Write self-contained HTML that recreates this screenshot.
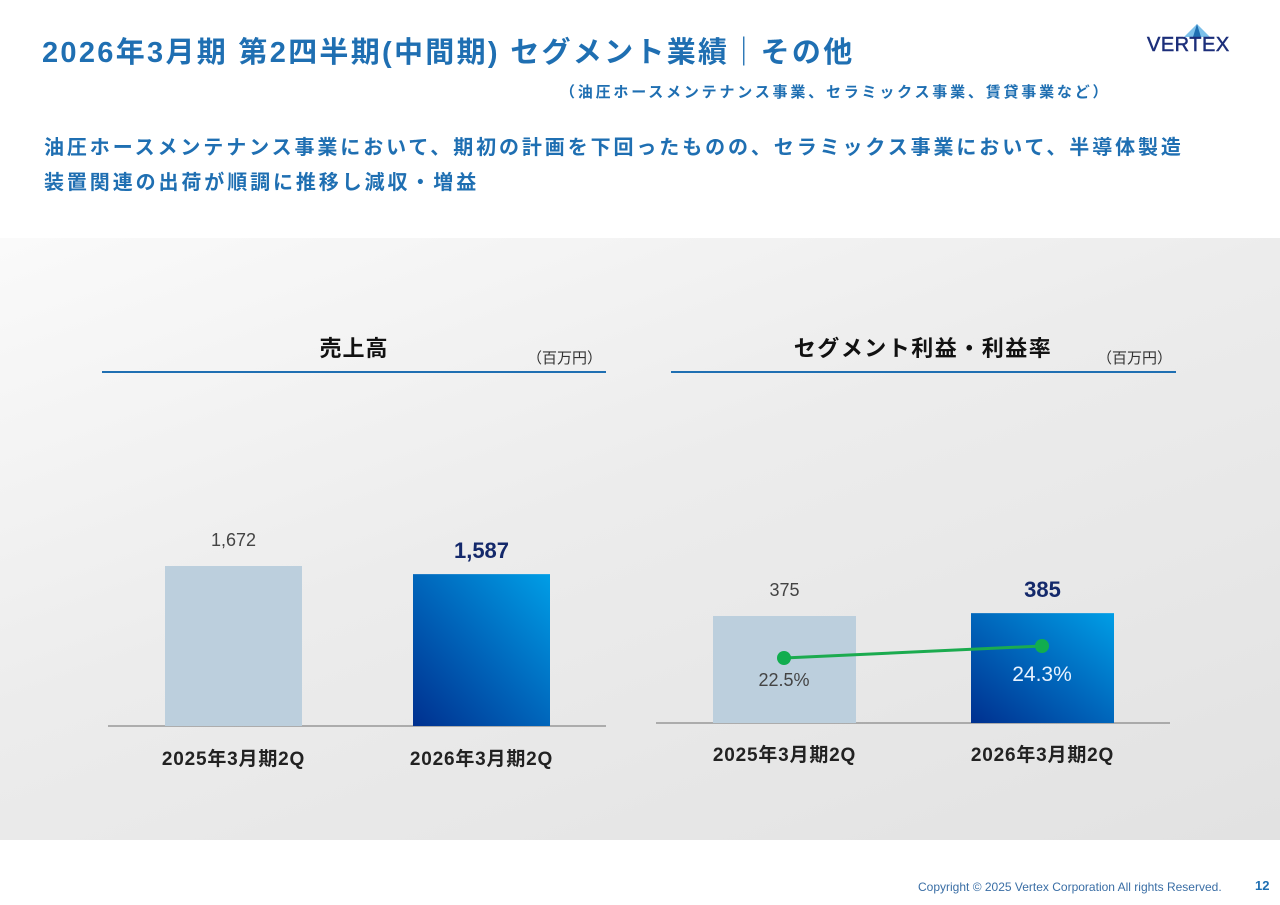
<!DOCTYPE html>
<html><head><meta charset="utf-8"><style>
body{margin:0;width:1280px;height:905px;position:relative;overflow:hidden;background:#fff;font-family:"Liberation Sans","Noto Sans CJK JP",sans-serif}
.abs{position:absolute;white-space:nowrap}
#panel{position:absolute;left:0;top:238px;width:1280px;height:602px;background:linear-gradient(160deg,#fafafa 0%,#ececec 45%,#e2e2e2 100%)}
</style></head><body>
<div class="abs" style="left:42px;top:29px;font-size:29px;font-weight:bold;color:#1f6fb2;letter-spacing:2.3px">2026年3月期 第2四半期(中間期) セグメント業績｜その他</div>
<div class="abs" style="left:1146px;top:24px;width:104px;height:32px">
<svg width="104" height="32"><polygon points="51,0 38,13 64,13" fill="#7cc0ea"/><polygon points="51,0 47,13 55,13" fill="#1f6fb2"/></svg>
<div class="abs" style="left:1px;top:10px;font-size:20px;color:#1c2f7a;letter-spacing:0.5px;-webkit-text-stroke:0.5px #1c2f7a">VERTEX</div></div>
<div class="abs" style="left:560px;top:81px;font-size:15px;font-weight:bold;color:#1f6fb2;letter-spacing:2.8px">（油圧ホースメンテナンス事業、セラミックス事業、賃貸事業など）</div>
<div class="abs" style="left:44px;top:131px;font-size:20px;font-weight:bold;color:#1f6fb2;line-height:35px;letter-spacing:2.9px">油圧ホースメンテナンス事業において、期初の計画を下回ったものの、セラミックス事業において、半導体製造<br>装置関連の出荷が順調に推移し減収・増益</div>
<div id="panel"></div>
<svg id="chart" width="1280" height="905" style="position:absolute;left:0;top:0">
<defs><linearGradient id="blue" x1="0" y1="1" x2="1" y2="0"><stop offset="0" stop-color="#00308f"/><stop offset="0.5" stop-color="#0066bb"/><stop offset="1" stop-color="#009ee6"/></linearGradient></defs>
</svg>
<div class="abs" style="left:918px;top:880px;font-size:12px;color:#3a6ea5">Copyright © 2025 Vertex Corporation All rights Reserved.</div>
<div class="abs" style="left:1255px;top:878px;font-size:13px;font-weight:bold;color:#1f6fb2">12</div>
<script>
const categories=["2025年3月期2Q","2026年3月期2Q"];
const sales=[1672,1587];
const salesLabels=["1,672","1,587"];
const profit=[375,385];
const profitLabels=["375","385"];
const margin=[22.5,24.3];
const marginLabels=["22.5%","24.3%"];
const svg=document.getElementById('chart');const NS='http://www.w3.org/2000/svg';
function mk(t,a,txt){const e=document.createElementNS(NS,t);for(const k in a)e.setAttribute(k,a[k]);if(txt!=null)e.textContent=txt;svg.appendChild(e);return e;}
const F='"Liberation Sans","Noto Sans CJK JP",sans-serif';
function panel(cfg){
 let e;
 e=mk('text',{x:cfg.tx,y:356,'text-anchor':'middle','font-size':22,'font-weight':'bold',fill:'#111','font-family':F,'letter-spacing':cfg.ls},cfg.title);
 
 e=mk('text',{x:cfg.ux2-4,y:363,'text-anchor':'end','font-size':15,fill:'#333','font-family':F},'（百万円）');
 
 e=mk('line',{x1:cfg.ux1,x2:cfg.ux2,y1:372,y2:372,stroke:'#1f6fb2','stroke-width':2});
 
 e=mk('line',{x1:cfg.ax1,x2:cfg.ax2,y1:cfg.base,y2:cfg.base,stroke:'#888','stroke-width':1.2});
 
 const y=v=>cfg.base-v*cfg.scale;
 cfg.vals.forEach((v,i)=>{
  const x=cfg.bx[i];
  e=mk('rect',{x:x,y:y(v),width:cfg.bw,height:cfg.base-y(v),fill:i?'url(#blue)':'#bccfdd'});
  
  e=mk('text',{x:x+cfg.bw/2,y:y(v)-(i?16:20),'text-anchor':'middle','font-size':i?22:18,'font-weight':i?'bold':'normal',fill:i?'#14296b':'#444','font-family':F},cfg.labels[i]);
  
  e=mk('text',{x:x+cfg.bw/2,y:cfg.base+cfg.cy,'text-anchor':'middle','font-size':19,'font-weight':'bold',fill:'#222','font-family':F,'letter-spacing':'0.8'},categories[i]);
  
 });
 return y;
}
panel({id:'sales',title:'売上高',ls:1,tx:354,ux1:102,ux2:606,ax1:108,ax2:606,base:726,scale:160/1672,bx:[165,413],bw:137,vals:sales,labels:salesLabels,cy:39});
panel({id:'profit',title:'セグメント利益・利益率',ls:1.5,tx:923,ux1:671,ux2:1176,ax1:656,ax2:1170,base:723,scale:107/375,bx:[713,971],bw:143,vals:profit,labels:profitLabels,cy:38});
const my=v=>658-(v-22.5)*6.67;
const cx=[784,1042];
let pts=margin.map((v,i)=>cx[i]+','+my(v)).join(' ');
let e=mk('polyline',{points:pts,fill:'none',stroke:'#1bab4f','stroke-width':3});

margin.forEach((v,i)=>{
 let c=mk('circle',{cx:cx[i],cy:my(v),r:7,fill:'#11ad4e'});
 
 let t=mk('text',{x:cx[i],y:my(v)+28+(i?7:0),'text-anchor':'middle','font-size':i?21:18,fill:i?'#e8f2ff':'#444','font-family':F},marginLabels[i]);
 
});
</script>
</body></html>
